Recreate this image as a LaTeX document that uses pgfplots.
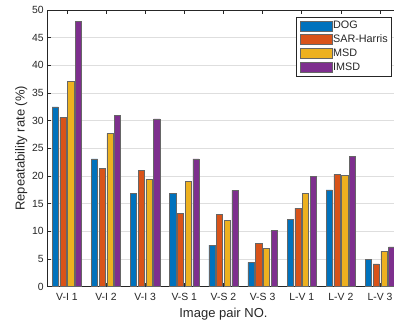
\documentclass[border=0pt]{standalone}
\usepackage{pgfplots}
\pgfplotsset{compat=1.18}
\usepackage{fontspec}
\setmainfont{Liberation Sans}

\definecolor{cDOG}{rgb}{0,0.447,0.741}
\definecolor{cSAR}{rgb}{0.850,0.325,0.098}
\definecolor{cMSD}{rgb}{0.929,0.694,0.125}
\definecolor{cIMSD}{rgb}{0.494,0.184,0.556}
\definecolor{axgray}{rgb}{0.15,0.15,0.15}

\begin{document}
\begin{tikzpicture}
\begin{axis}[
  name=ax,
  scale only axis,
  width=352.3pt, height=276.6pt,
  xmin=0.5, xmax=9.5, ymin=0, ymax=50,
  xtick={1,...,9},
  xticklabels={V-I 1, V-I 2, V-I 3, V-S 1, V-S 2, V-S 3, L-V 1, L-V 2, L-V 3},
  ytick={0,5,...,50},
  ybar, bar width=0.158,
  ymajorgrids,
  grid style={color=black!13, line width=0.5pt},
  tick align=inside, tick pos=both,
  major tick length=3.5pt,
  axis line style={axgray, line width=0.5pt},
  tick style={axgray, line width=0.5pt},
  ticklabel style={font=\fontsize{10.4}{12}\selectfont, text=axgray},
  xticklabel style={yshift=-3pt},
  /pgf/number format/assume math mode=true,
  xlabel={Image pair NO.},
  ylabel={Repeatability rate (\%)},
  label style={font=\fontsize{13}{15}\selectfont, text=axgray},
  xlabel style={yshift=-1pt},
  ylabel style={yshift=-2pt},
  every axis plot/.append style={draw=black!60, line width=0.5pt},
  legend style={at={(1,1)}, anchor=north east, xshift=-7.6pt, yshift=-7.3pt,
    draw=axgray, line width=0.5pt, font=\fontsize{10.8}{13}\selectfont,
    text=axgray, row sep=1.4pt,
    nodes={inner sep=1pt, text height=8pt, text depth=2.5pt}},
  legend cell align=left,
  legend image code/.code={\draw[#1] (0pt,-5pt) rectangle (32pt,5pt);},
]
% detector repeatability per image pair
\addplot[fill=cDOG, bar shift=-0.296] coordinates {
  (1,32.5) (2,23.1) (3,16.9) (4,16.9) (5,7.5) (6,4.4) (7,12.2) (8,17.5) (9,4.9)};
\addplot[fill=cSAR, bar shift=-0.099] coordinates {
  (1,30.6) (2,21.4) (3,21.0) (4,13.3) (5,13.0) (6,7.8) (7,14.2) (8,20.3) (9,4.1)};
\addplot[fill=cMSD, bar shift=0.099] coordinates {
  (1,37.1) (2,27.7) (3,19.4) (4,19.0) (5,12.0) (6,6.9) (7,16.8) (8,20.1) (9,6.4)};
\addplot[fill=cIMSD, bar shift=0.296] coordinates {
  (1,47.9) (2,31.0) (3,30.3) (4,23.1) (5,17.4) (6,10.2) (7,19.9) (8,23.6) (9,7.2)};
\legend{DOG, SAR-Harris, MSD, IMSD}
\end{axis}
\pgfresetboundingbox
\path[use as bounding box] (ax.south west) ++(-47.3pt,-37.4pt) rectangle ++(394pt,324pt);
\end{tikzpicture}
\end{document}
